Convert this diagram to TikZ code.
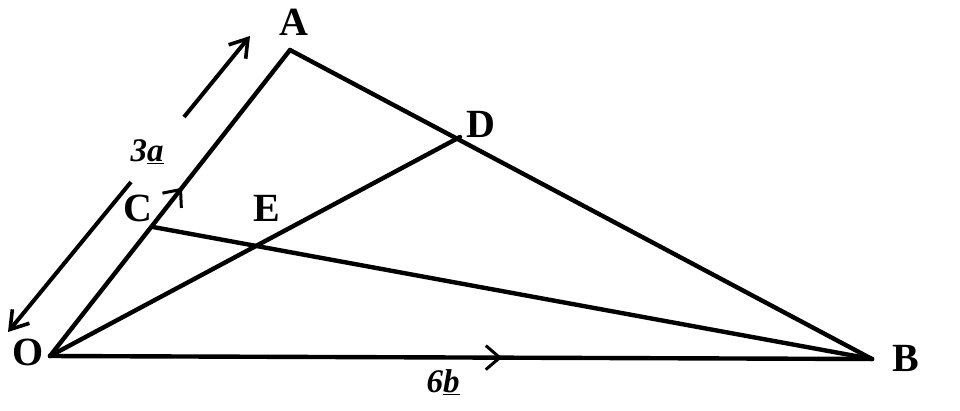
\documentclass[tikz,border=0pt]{standalone}
\usepackage{fontspec}
\setmainfont{Liberation Serif}
\usetikzlibrary{arrows.meta,decorations.markings}
\begin{document}
\begin{tikzpicture}[x=1pt,y=-1pt,
  seg/.style={line width=4.4pt,line cap=round,line join=round},
  vlabel/.style={font=\fontsize{40}{40}\selectfont\bfseries,inner sep=0pt},
  veclabel/.style={font=\fontsize{33}{33}\selectfont\bfseries\itshape,inner sep=0pt},
  barb/.style={-{Straight Barb[length=17pt,width=22pt,line width=3.6pt]}},
  midbarb/.style={postaction={decorate},decoration={markings,
     mark=at position #1 with {\arrow{Straight Barb[length=14pt,width=24pt,line width=3pt]}}}}]
\useasboundingbox (0,0) rectangle (960,410);
% points
\coordinate (O) at (50,356);
\coordinate (A) at (290,50);
\coordinate (B) at (872,359);
\coordinate (C) at (153,227);
\coordinate (D) at (460,137);
\coordinate (E) at (261,246);
% free arrow ends
\coordinate (p1) at (131,182);
\coordinate (p2) at (8,332);
\coordinate (q1) at (184,117);
\coordinate (q2) at (250,36);
% sides
\draw[seg,midbarb=0.55] (O) -- (A);
\draw[seg] (A) -- (B);
\draw[seg,midbarb=0.55] (O) -- (B);
\draw[seg] (O) -- (D);
\draw[seg] (C) -- (B);
% parallel vector arrows
\draw[line width=4pt,barb] (p1) -- (p2);
\draw[line width=4pt,barb] (q1) -- (q2);
% labels
\node[vlabel] (lA) at (294,22) {A};
\node[vlabel] (lB) at (906,358) {B};
\node[vlabel] (lC) at (138,208) {C};
\node[vlabel] (lD) at (481,124) {D};
\node[vlabel] (lE) at (267,208) {E};
\node[vlabel] (lO) at (28,352) {O};
\node[veclabel] (l3a) at (147,152) {3\underline{a}};
\node[veclabel] (l6b) at (443,382) {6\underline{b}};
\end{tikzpicture}
\end{document}
